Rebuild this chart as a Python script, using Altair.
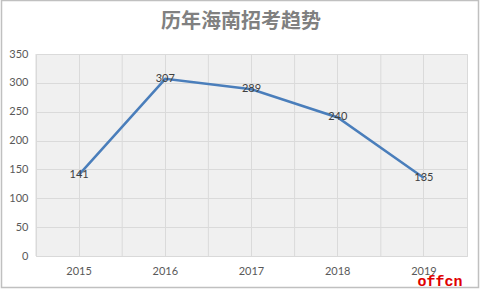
import altair as alt
import pandas as pd

years = ["2015", "2016", "2017", "2018", "2019"]
values = [141, 307, 289, 240, 135]
title_text = "历年海南招考趋势"
watermark = "offcn"

df = pd.DataFrame({"year": years, "value": values})

xscale = alt.Scale(paddingInner=0, paddingOuter=0)
yscale = alt.Scale(domain=[0, 350])
xaxis = alt.Axis(title=None, labelAngle=0, ticks=False, domain=True,
                 domainColor="#d9d9d9", grid=True, gridColor="#dadada",
                 labelColor="#595959", labelFontSize=11, labelFont="Lato",
                 labelPadding=9)
yaxis = alt.Axis(title=None, values=[0, 50, 100, 150, 200, 250, 300, 350],
                 ticks=False, domain=False, grid=True, gridColor="#dadada",
                 labelColor="#595959", labelFontSize=11, labelFont="Lato",
                 labelPadding=8)

base = alt.Chart(df)

bounds = base.mark_rule(color="#dadada", strokeWidth=1).encode(
    x=alt.X("year:O", scale=xscale, axis=xaxis, bandPosition=0),
)

line = base.mark_line(color="#4a7ebb", strokeWidth=2.5).encode(
    x=alt.X("year:O", scale=xscale, axis=xaxis),
    y=alt.Y("value:Q", scale=yscale, axis=yaxis),
)

labels = base.mark_text(fontSize=11, font="Lato", color="#404040").encode(
    x=alt.X("year:O", scale=xscale, axis=xaxis),
    y=alt.Y("value:Q", scale=yscale, axis=yaxis),
    text="value:Q",
)

title = alt.Chart(pd.DataFrame({"t": [title_text]})).mark_text(
    fontSize=20, font="Noto Sans CJK SC", fontWeight="bold", color="#808080",
    baseline="middle", align="center"
).encode(x=alt.value(205), y=alt.value(-32), text="t:N")

wm = alt.Chart(pd.DataFrame({"t": [watermark]})).mark_text(
    fontSize=15, font="Liberation Mono", fontWeight="bold", color="#e00000"
).encode(x=alt.value(404), y=alt.value(227), text="t:N")

frame = alt.Chart(pd.DataFrame({"a": [0]})).mark_rect(
    filled=False, stroke="#c0c0c0", strokeWidth=1.5
).encode(x=alt.value(-34.5), x2=alt.value(442.5), y=alt.value(-53.5), y2=alt.value(233.5))

chart = alt.layer(bounds, line, labels, title, wm, frame).properties(
    width=431, height=202,
    autosize=alt.AutoSizeParams(type="none"),
    padding={"left": 36, "top": 54, "right": 15, "bottom": 34},
    background="white",
).configure_view(fill="#f0f0f0", stroke="#dadada")

chart.save("out.html", embed_options={"renderer": "svg", "actions": False})
